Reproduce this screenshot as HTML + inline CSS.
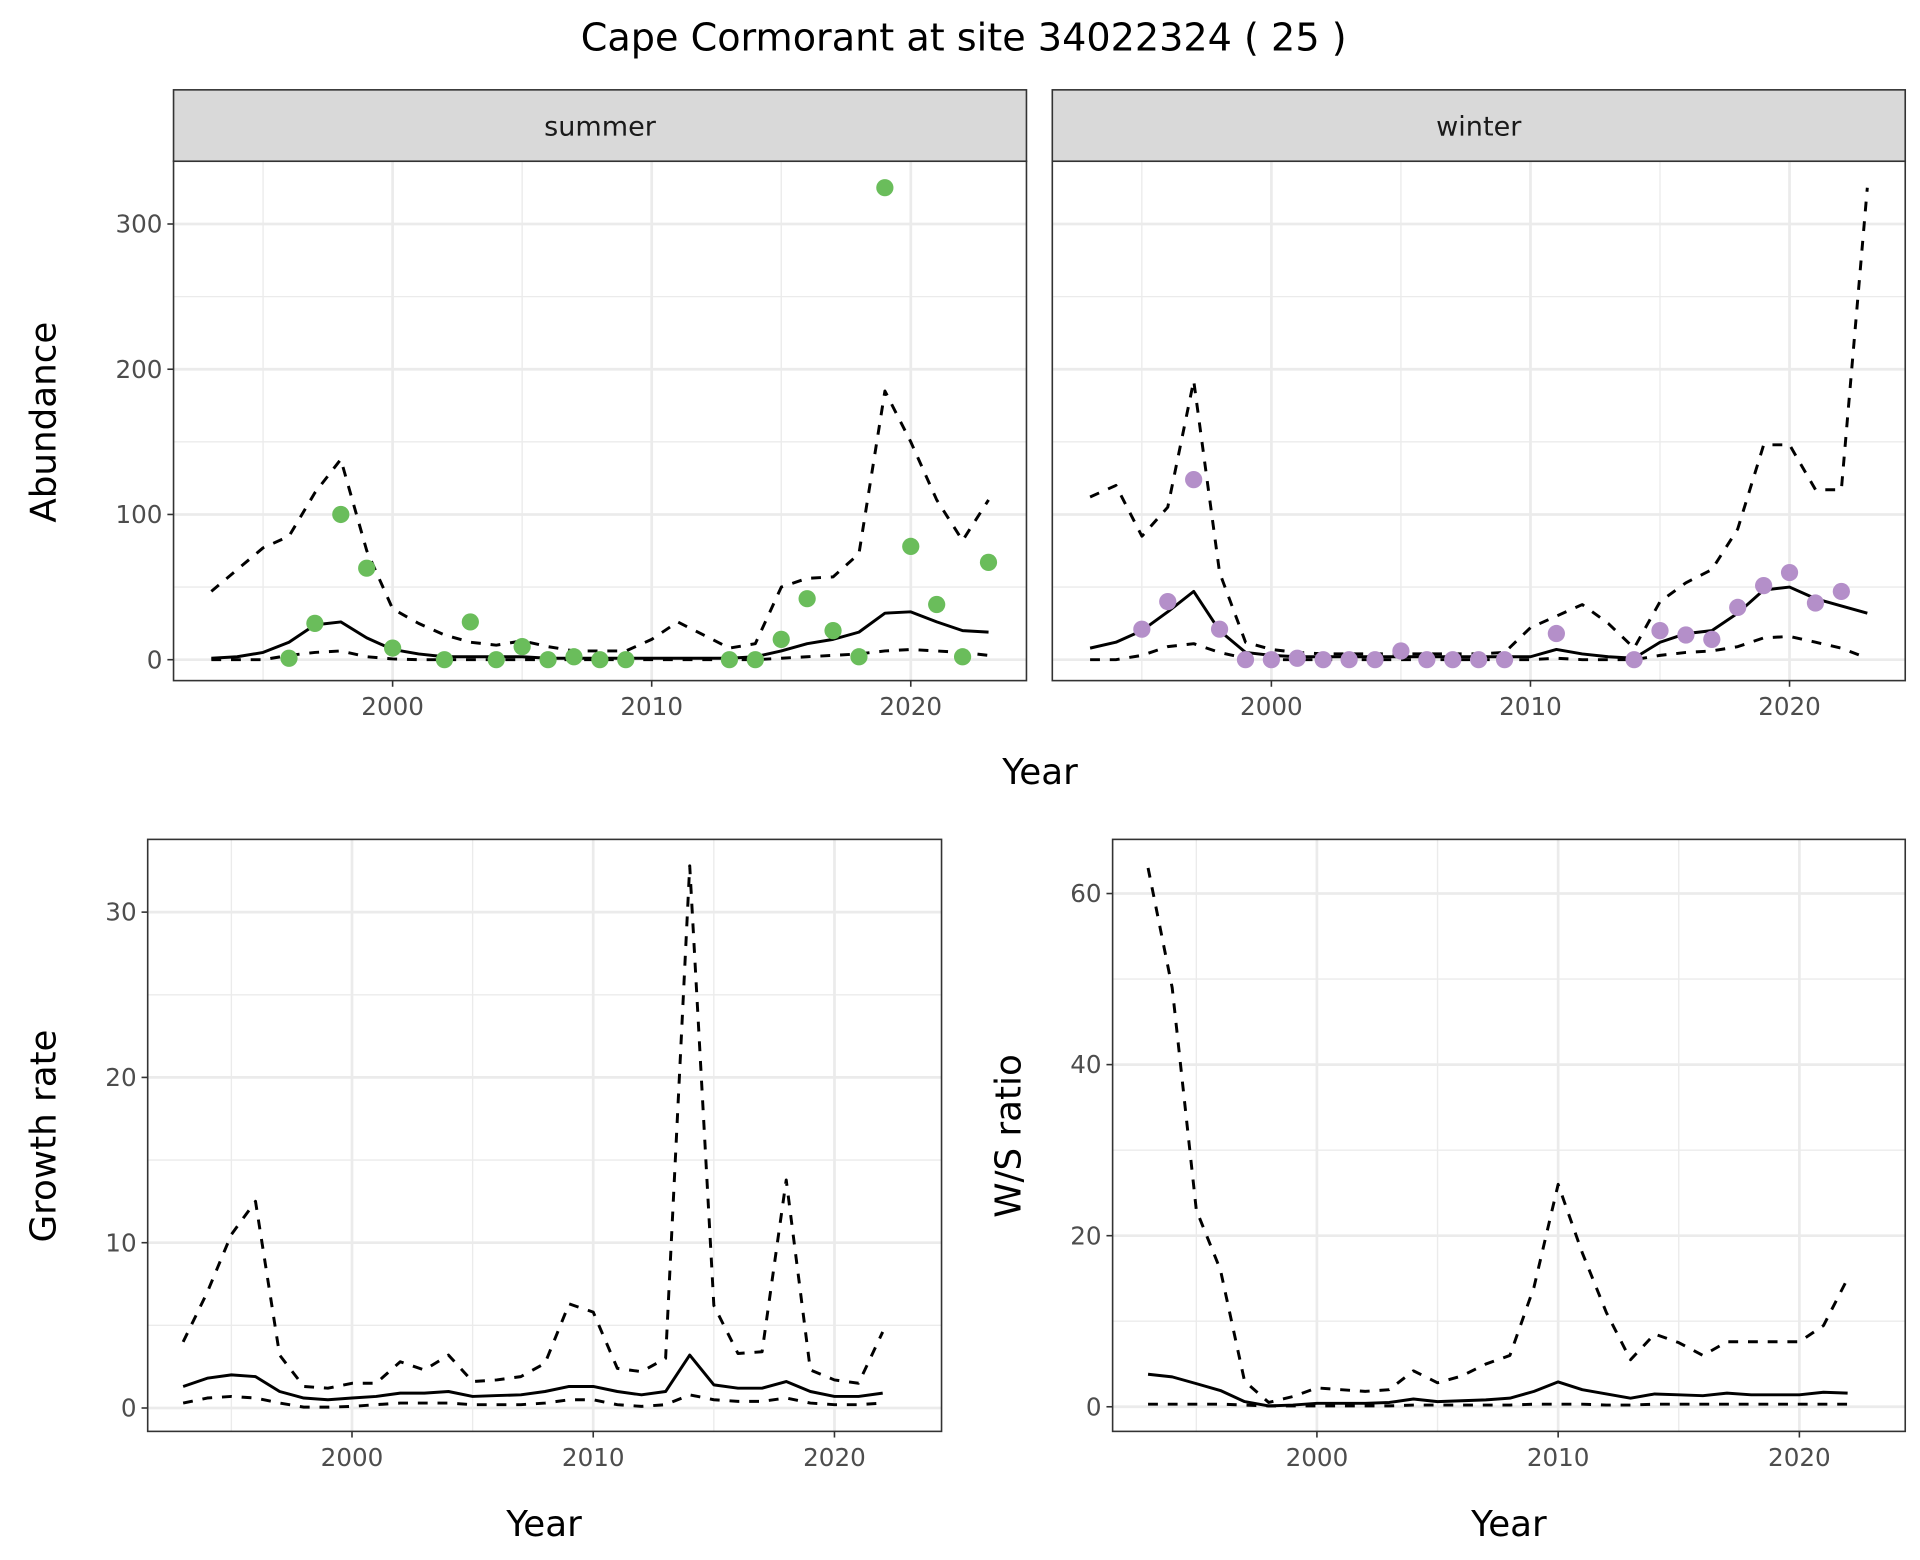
<!DOCTYPE html>
<html><head><meta charset="utf-8"><style>
html,body{margin:0;padding:0;background:#fff}
svg{display:block}
text{font-family:"DejaVu Sans","Liberation Sans",sans-serif}
</style></head><body>
<svg id="chart" xmlns="http://www.w3.org/2000/svg" width="1920" height="1560" viewBox="0 0 1560 1267.5">
<text x="783" y="41" font-size="31" text-anchor="middle" fill="#000">Cape Cormorant at site 34022324 ( 25 )</text>
</svg>
<script>
const years = [1993,1994,1995,1996,1997,1998,1999,2000,2001,2002,2003,2004,2005,2006,2007,2008,2009,2010,2011,2012,2013,2014,2015,2016,2017,2018,2019,2020,2021,2022,2023];
const summerMean = [1,2,5,12,24,26,15,7,4,2,2,2,2,1,1,1,1,1,1,1,1,2,6,11,14,19,32,33,26,20,19];
const summerUpper = [47,62,77,85,115,138,75,35,25,17,12,10,13,9,6,6,6,14,26,17,8,11,50,56,57,73,185,150,110,82,110];
const summerLower = [0,0,0,3,5,6,2,0.5,0,0,0,0,0,0,0,0,0,0,0,0,0,0,1,2,3,4,6,7,6,5,3];
const summerPtYears = [1996,1997,1998,1999,2000,2002,2003,2004,2005,2006,2007,2008,2009,2013,2014,2015,2016,2017,2018,2019,2020,2021,2022,2023];
const summerPtVals = [1,25,100,63,8,0,26,0,9,0,2,0,0,0,0,14,42,20,2,325,78,38,2,67];
const winterMean = [8,12,20,33,47,20,5,3,2,2,2,2,2,2,2,2,2,2,7,4,2,1,12,18,20,32,48,50,42,37,32];
const winterUpper = [112,120,85,105,192,60,12,7,5,4,4,4,4,4,4,4,5,22,30,38,25,8,40,53,62,90,148,148,117,117,325];
const winterLower = [0,0,3,9,11,5,1,0,0,0,0,0,0,0,0,0,0,0,1,0,0,0,3,5,6,9,15,16,12,8,1];
const winterPtYears = [1995,1996,1997,1998,1999,2000,2001,2002,2003,2004,2005,2006,2007,2008,2009,2011,2014,2015,2016,2017,2018,2019,2020,2021,2022];
const winterPtVals = [21,40,124,21,0,0,1,0,0,0,6,0,0,0,0,18,0,20,17,14,36,51,60,39,47];
const years2 = [1993,1994,1995,1996,1997,1998,1999,2000,2001,2002,2003,2004,2005,2006,2007,2008,2009,2010,2011,2012,2013,2014,2015,2016,2017,2018,2019,2020,2021,2022];
const growthMean = [1.3,1.8,2.0,1.9,1.0,0.6,0.5,0.6,0.7,0.9,0.9,1.0,0.7,0.75,0.8,1.0,1.3,1.3,1.0,0.8,1.0,3.2,1.4,1.2,1.2,1.6,1.0,0.7,0.7,0.9];
const growthUpper = [4,7,10.5,12.5,3.2,1.3,1.2,1.5,1.5,2.8,2.3,3.2,1.6,1.7,1.9,2.7,6.3,5.8,2.4,2.2,3.0,32.8,6.2,3.3,3.4,13.8,2.3,1.7,1.5,4.6];
const growthLower = [0.3,0.6,0.7,0.6,0.3,0.05,0.05,0.1,0.2,0.3,0.3,0.3,0.2,0.2,0.2,0.3,0.5,0.5,0.2,0.1,0.2,0.8,0.5,0.4,0.4,0.6,0.3,0.2,0.2,0.3];
const ratioMean = [3.8,3.5,2.7,1.9,0.6,0.1,0.2,0.4,0.4,0.4,0.5,0.9,0.6,0.7,0.8,1.0,1.8,2.9,2.0,1.5,1.0,1.5,1.4,1.3,1.6,1.4,1.4,1.4,1.7,1.6];
const ratioUpper = [63,49,23,16,3,0.5,1.2,2.2,2.0,1.8,2.0,4.2,2.8,3.6,5,6,14,26,18,11,5.5,8.5,7.5,6,7.6,7.6,7.6,7.6,9.5,15];
const ratioLower = [0.3,0.3,0.3,0.3,0.2,0.1,0.1,0.1,0.1,0.1,0.1,0.2,0.2,0.2,0.2,0.2,0.3,0.3,0.3,0.2,0.2,0.3,0.3,0.3,0.3,0.3,0.3,0.3,0.3,0.3];
const xTicks = [2000,2010,2020];
const abundTicks = [0,100,200,300];
const growthTicks = [0,10,20,30];
const ratioTicks = [0,20,40,60];

const svg = document.getElementById('chart');
const NS = 'http://www.w3.org/2000/svg';
function mk(tag, attrs, parent){
  const e = document.createElementNS(NS, tag);
  for (const k in attrs) e.setAttribute(k, attrs[k]);
  (parent||svg).appendChild(e);
  return e;
}
function panel(p){
  const g = mk('g', {});
  
  
  const sx = v => p.x0 + (v - p.xmin) / (p.xmax - p.xmin) * (p.x1 - p.x0);
  const sy = v => p.y1 - (v - p.ymin) / (p.ymax - p.ymin) * (p.y1 - p.y0);
  for (let i = 0; i < p.xt.length; i++) {
    const m = p.xt[i] - 5;
    [m].concat(i === p.xt.length-1 ? [p.xt[i]+5] : []).forEach(v => {
      if (sx(v) > p.x0 && sx(v) < p.x1) mk('line', {x1:sx(v),x2:sx(v),y1:p.y0,y2:p.y1,stroke:'#ebebeb','stroke-width':1.1}, g);
    });
  }
  const ystep = p.yt[1] - p.yt[0];
  for (let i = 0; i < p.yt.length; i++) {
    const v = p.yt[i] + ystep/2;
    if (sy(v) > p.y0) mk('line', {x1:p.x0,x2:p.x1,y1:sy(v),y2:sy(v),stroke:'#ebebeb','stroke-width':1.1}, g);
  }
  p.xt.forEach(v => {
    mk('line', {x1:sx(v),x2:sx(v),y1:p.y0,y2:p.y1,stroke:'#ebebeb','stroke-width':2.2}, g);
    mk('line', {x1:sx(v),x2:sx(v),y1:p.y1,y2:p.y1+5,stroke:'#333','stroke-width':1.3}, g);
    const t = mk('text', {x:sx(v),y:p.y1+28,'font-size':20,'text-anchor':'middle',fill:'#4d4d4d'}, g);
    
    
    t.textContent = v;
  });
  p.yt.forEach(v => {
    mk('line', {x1:p.x0,x2:p.x1,y1:sy(v),y2:sy(v),stroke:'#ebebeb','stroke-width':2.2}, g);
    if (p.ylabels) {
      mk('line', {x1:p.x0-5,x2:p.x0,y1:sy(v),y2:sy(v),stroke:'#333','stroke-width':1.3}, g);
      const t = mk('text', {x:p.x0-9,y:sy(v)+7,'font-size':20,'text-anchor':'end',fill:'#4d4d4d'}, g);
      
      
      t.textContent = v;
    }
  });
  const line = (ys, dash, name) => {
    const d = p.years.map((y,i) => (i?'L':'M') + sx(y).toFixed(1) + ',' + sy(ys[i]).toFixed(1)).join('');
    const a = {d:d,fill:'none',stroke:'#000','stroke-width':2.4,'stroke-linejoin':'round'};
    if (dash) a['stroke-dasharray'] = '8,8';
    const e = mk('path', a, g);
    
    
  };
  line(p.upper, true, 'upper-bound-line');
  line(p.lower, true, 'lower-bound-line');
  line(p.mean, false, 'mean-line');
  if (p.ptY) p.ptY.forEach((y,i) => {
    const c = mk('circle', {cx:sx(y),cy:sy(p.ptV[i]),r:7,fill:p.col}, g);
    
    
  });
  mk('rect', {x:p.x0,y:p.y0,width:p.x1-p.x0,height:p.y1-p.y0,fill:'none',stroke:'#333','stroke-width':1.3}, g);
  if (p.strip) {
    const r = mk('rect', {x:p.x0,y:p.y0-58,width:p.x1-p.x0,height:58,fill:'#d9d9d9',stroke:'#333','stroke-width':1.3}, g);
    
    
    const t = mk('text', {x:(p.x0+p.x1)/2,y:p.y0-21,'font-size':22,'text-anchor':'middle',fill:'#1a1a1a'}, g);
    
    
    t.textContent = p.strip;
  }
}
const topY = {y0:131,y1:553,ymin:-(553-536)/1.18,ymax:(536-131)/1.18};
panel(Object.assign({name:'summer-panel',x0:141,x1:834,xmin:2000-(319-141)/21.05,xmax:2000+(834-319)/21.05,years:years,mean:summerMean,upper:summerUpper,lower:summerLower,ptY:summerPtYears,ptV:summerPtVals,col:'#6abd5b',xt:xTicks,yt:abundTicks,ylabels:true,strip:'summer'}, topY));
panel(Object.assign({name:'winter-panel',x0:855,x1:1548,xmin:2000-(1033-855)/21.05,xmax:2000+(1548-1033)/21.05,years:years,mean:winterMean,upper:winterUpper,lower:winterLower,ptY:winterPtYears,ptV:winterPtVals,col:'#b48fc9',xt:xTicks,yt:abundTicks,ylabels:false,strip:'winter'}, topY));
panel({name:'growth-panel',x0:120,x1:765,y0:682,y1:1163,xmin:2000-(286-120)/19.6,xmax:2000+(765-286)/19.6,ymin:-(1163-1144)/13.43,ymax:(1144-682)/13.43,years:years2,mean:growthMean,upper:growthUpper,lower:growthLower,xt:xTicks,yt:growthTicks,ylabels:true});
panel({name:'ratio-panel',x0:904,x1:1548,y0:682,y1:1163,xmin:2000-(1070-904)/19.6,xmax:2000+(1548-1070)/19.6,ymin:-(1163-1143)/6.95,ymax:(1143-682)/6.95,years:years2,mean:ratioMean,upper:ratioUpper,lower:ratioLower,xt:xTicks,yt:ratioTicks,ylabels:true});
function label(txt, x, y, rot, name){
  const t = mk('text', {x:x,y:y,'font-size':29,'text-anchor':'middle',fill:'#000',transform:rot?`rotate(-90 ${x} ${y})`:''});
  
  
  t.textContent = txt;
}
label('Year', 845, 637, false, 'x-axis-title-top');
label('Abundance', 45, 343, true, 'y-axis-title-abundance');
label('Year', 442, 1248, false, 'x-axis-title-growth');
label('Growth rate', 45, 923, true, 'y-axis-title-growth');
label('Year', 1226, 1248, false, 'x-axis-title-ratio');
label('W/S ratio', 829, 923, true, 'y-axis-title-ratio');
</script>
</body></html>
